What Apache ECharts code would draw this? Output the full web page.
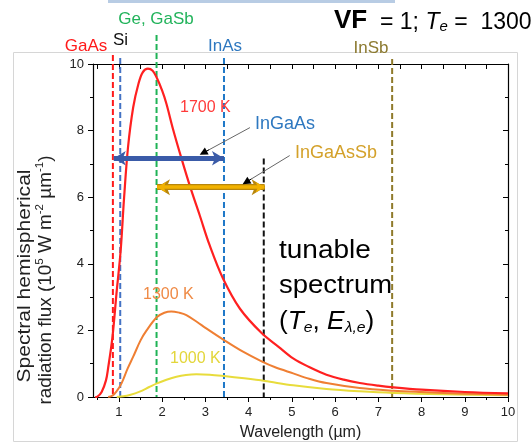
<!DOCTYPE html>
<html><head><meta charset="utf-8">
<script src="https://cdn.jsdelivr.net/npm/echarts@6/dist/echarts.min.js"></script>
<style>html,body{margin:0;padding:0;background:#fff}#c{width:532px;height:446px}</style>
</head><body><div id="c"></div>
<script>
const FONT = '"Liberation Sans", Arial, sans-serif';

// ---- data ----
const wl1700   = [0.45, 0.5, 0.6, 0.7, 0.75, 0.85, 0.95, 1.04, 1.12, 1.21, 1.33, 1.45, 1.55, 1.67, 1.78, 1.87, 2.0, 2.1, 2.25, 2.45, 2.65, 2.87, 3.1, 3.41, 3.8, 4.3, 4.7, 5.03, 5.4, 5.8, 6.2, 6.57, 7.0, 7.35, 8.0, 9.0, 10.0];
const flux1700 = [0.0, 0.01, 0.15, 0.5, 0.87, 1.8, 3.2, 4.4, 6.0, 7.5, 8.7, 9.4, 9.75, 9.86, 9.8, 9.6, 9.2, 8.8, 8.05, 7.15, 6.3, 5.45, 4.55, 3.55, 2.65, 1.92, 1.5, 1.16, 0.9, 0.67, 0.52, 0.42, 0.34, 0.29, 0.22, 0.15, 0.11];
const wl1300   = [0.75, 0.85, 0.94, 1.06, 1.2, 1.33, 1.5, 1.64, 1.88, 2.05, 2.21, 2.4, 2.56, 2.8, 3.02, 3.43, 3.87, 4.3, 4.6, 5.03, 5.4, 5.8, 6.57, 7.35, 8.0, 9.0, 10.0];
const flux1300 = [0.0, 0.04, 0.16, 0.41, 0.85, 1.21, 1.7, 2.0, 2.40, 2.53, 2.57, 2.53, 2.46, 2.26, 2.06, 1.71, 1.36, 1.07, 0.9, 0.71, 0.55, 0.42, 0.27, 0.19, 0.15, 0.10, 0.07];
const wl1000   = [0.95, 1.1, 1.25, 1.48, 1.7, 1.88, 2.1, 2.33, 2.55, 2.79, 3.1, 3.43, 3.9, 4.375, 5.03, 5.8, 6.57, 7.35, 8.5, 10.0];
const flux1000 = [0.0, 0.02, 0.06, 0.16, 0.3, 0.41, 0.52, 0.61, 0.66, 0.68, 0.67, 0.63, 0.56, 0.48, 0.35, 0.24, 0.17, 0.12, 0.08, 0.05];

const gapNames = ['GaAs', 'Si', 'Ge, GaSb', 'InAs', 'InSb'];
const gapWl    = [0.86, 1.03, 1.87, 3.43, 7.32];
const gapTop   = [10.27, 10.18, 10.87, 10.18, 10.15];
const cutoffWl = 4.35;
const cutoffTop = 7.16;

const ingaasRange   = [0.88, 3.43];
const ingaasLevel   = 7.17;
const ingaassbRange = [1.88, 4.37];
const ingaassbLevel = 6.30;
const ingaasPointer   = [[4.03, 8.09], [2.95, 7.33]];
const ingaassbPointer = [[4.95, 7.25], [3.94, 6.45]];

const xMajor = [1, 2, 3, 4, 5, 6, 7, 8, 9, 10];
const xMinor = [0.5, 1.5, 2.5, 3.5, 4.5, 5.5, 6.5, 7.5, 8.5, 9.5];

// ---- chart ----
const zip = (xs, ys) => xs.map((x, i) => [x, ys[i]]);
const chart = echarts.init(document.getElementById('c'), null, {renderer: 'canvas'});

const gapColors = ['#ff1a1a', '#4472c4', '#1fb356', '#1f78c8', '#8f7a2a'];
const gapLabelColors = ['#ff1a1a', '#111111', '#22b35b', '#2e78c0', '#8c7a30'];

const series = [];
gapWl.forEach((w, i) => {
  series.push({
    type: 'line', name: gapNames[i], data: [[w, gapTop[i]], [w, 0]], clip: false,
    symbol: 'none', silent: true, z: 3,
    lineStyle: {color: gapColors[i], width: 2, type: [6, 3]}
  });
});
series.push({
  type: 'line', name: 'cutoff', data: [[cutoffWl, cutoffTop], [cutoffWl, 0]], clip: false,
  symbol: 'none', silent: true, z: 3,
  lineStyle: {color: '#111', width: 2, type: [6, 3]}
});
[[wl1000, flux1000, '#e8dc3c', 2], [wl1300, flux1300, '#ef7f33', 2], [wl1700, flux1700, '#ff2020', 2.2]].forEach(([xs, ys, c, w]) => {
  series.push({
    type: 'line', data: zip(xs, ys), smooth: 0.35, symbol: 'none', silent: true, z: 4,
    lineStyle: {color: c, width: w}
  });
});
const headStart = (p) => [p[1][0] + 0.12 * (p[0][0] - p[1][0]), p[1][1] + 0.12 * (p[0][1] - p[1][1])];
series.push({
  type: 'line', data: [], silent: true, z: 6,
  markLine: {
    silent: true, animation: false, label: {show: false},
    emphasis: {disabled: true},
    data: [
      [{coord: [ingaasRange[0], ingaasLevel], symbol: 'arrow', symbolSize: [11, 12], lineStyle: {color: '#3a5ba8', width: 5, type: 'solid'}},
       {coord: [ingaasRange[1], ingaasLevel], symbol: 'arrow', symbolSize: [11, 12]}],
      [{coord: [ingaassbRange[0], ingaassbLevel], symbol: 'arrow', symbolSize: [12, 13], lineStyle: {color: '#b8860b', width: 6, type: 'solid'}},
       {coord: [ingaassbRange[1], ingaassbLevel], symbol: 'arrow', symbolSize: [12, 13]}],
      [{coord: [ingaassbRange[0], ingaassbLevel], symbol: 'arrow', symbolSize: [8, 9], lineStyle: {color: '#f2b200', width: 3.5, type: 'solid'}},
       {coord: [ingaassbRange[1], ingaassbLevel], symbol: 'arrow', symbolSize: [8, 9]}],
      [{coord: ingaasPointer[0], symbol: 'none', lineStyle: {color: '#666', width: 1, type: 'solid'}},
       {coord: ingaasPointer[1], symbol: 'none'}],
      [{coord: ingaassbPointer[0], symbol: 'none', lineStyle: {color: '#666', width: 1, type: 'solid'}},
       {coord: ingaassbPointer[1], symbol: 'none'}],
      [{coord: headStart(ingaasPointer), symbol: 'none', lineStyle: {color: '#000', width: 1, type: 'solid'}},
       {coord: ingaasPointer[1], symbol: 'triangle', symbolSize: 8}],
      [{coord: headStart(ingaassbPointer), symbol: 'none', lineStyle: {color: '#000', width: 1, type: 'solid'}},
       {coord: ingaassbPointer[1], symbol: 'triangle', symbolSize: 8}]
    ]
  }
});

function T(x, y, text, o) {
  return {
    type: 'text', x: x, y: y, z: 100, silent: true, rotation: o.rot || 0,
    scaleX: o.sx || 1, scaleY: o.sy || 1,
    style: {
      text: text, fontFamily: FONT, fontSize: o.size || 16, fill: o.color || '#000',
      align: o.align || 'left', verticalAlign: 'middle', fontWeight: o.weight || 'normal',
      rich: o.rich
    }
  };
}
const italicRich = (size, subSize) => ({
  i: {fontFamily: FONT, fontSize: size, fontStyle: 'italic', verticalAlign: 'bottom', lineHeight: size * 1.2},
  sub: {fontFamily: FONT, fontSize: subSize, fontStyle: 'italic', verticalAlign: 'bottom', lineHeight: subSize},
  n: {fontFamily: FONT, fontSize: size, verticalAlign: 'bottom', lineHeight: size * 1.2}
});

const graphics = [
  {type: 'rect', shape: {x: 13.5, y: 52.5, width: 504, height: 389}, style: {fill: 'none', stroke: '#d6d6d6', lineWidth: 1}, z: -1, silent: true},
  {type: 'rect', shape: {x: 108, y: 0, width: 287, height: 3}, style: {fill: '#b8cce4'}, z: -1, silent: true},
  T(86, 46, gapNames[0], {color: gapLabelColors[0], size: 17, align: 'center'}),
  T(120.5, 40, gapNames[1], {color: gapLabelColors[1], size: 17, align: 'center'}),
  T(156, 19.5, gapNames[2], {color: gapLabelColors[2], size: 17, align: 'center'}),
  T(225, 46.6, gapNames[3], {color: gapLabelColors[3], size: 17, align: 'center'}),
  T(371, 48.7, gapNames[4], {color: gapLabelColors[4], size: 17, align: 'center'}),
  T(334, 19, '{b|VF}{n|  = 1; }{i|T}{sub|e}{n| =  1300}', {rich: Object.assign(italicRich(23, 15), {b: {fontFamily: FONT, fontSize: 26, fontWeight: 'bold', verticalAlign: 'bottom', lineHeight: 30}})}),
  T(180, 107.3, '1700 K', {color: '#ff3a3a', size: 16}),
  T(143, 295, '1300 K', {color: '#ef8a45', size: 16}),
  T(170, 359, '1000 K', {color: '#e3d63a', size: 16}),
  T(255, 124, 'InGaAs', {color: '#2e78c0', size: 18}),
  T(295, 153, 'InGaAsSb', {color: '#d4a12a', size: 18}),
  T(279, 251, 'tunable', {size: 25, sx: 1.12}),
  T(279, 286, 'spectrum', {size: 25, sx: 1.1}),
  T(279, 320, '{n|(}{i|T}{sub|e}{n|, }{i|E}{sub|λ,e}{n|)}', {rich: italicRich(25, 15), sx: 1.05}),
  T(300.5, 433, 'Wavelength (µm)', {size: 16, align: 'center', color: '#222'}),
  T(25, 276, 'Spectral hemispherical', {size: 18, align: 'center', rot: Math.PI / 2, color: '#222', sx: 1.17}),
  T(45, 280, '{n|radiation flux (10}{s|5}{n| W m}{s|-2}{n| µm}{s|-1}{n|)}', {align: 'center', rot: Math.PI / 2, sx: 1.05,
    rich: {n: {fontFamily: FONT, fontSize: 18, fill: '#222', verticalAlign: 'bottom', lineHeight: 21},
           s: {fontFamily: FONT, fontSize: 11, fill: '#222', verticalAlign: 'top', lineHeight: 21}}})
];

const axisLine = {show: true, onZero: false, lineStyle: {color: '#000', width: 1.2}};
const tickStyle = {color: '#000', width: 1};
const option = {
  animation: false,
  grid: {left: 93, top: 64, width: 415, height: 333, containLabel: false},
  xAxis: [
    {type: 'value', min: 0.4, max: 10, position: 'bottom', axisLine: axisLine,
     axisTick: {show: true, inside: false, length: 5, customValues: xMajor, lineStyle: tickStyle},
     axisLabel: {show: true, customValues: xMajor, fontSize: 13, color: '#222', margin: 9, fontFamily: FONT},
     splitLine: {show: false}},
    {type: 'value', min: 0.4, max: 10, position: 'bottom', axisLine: {show: false},
     axisTick: {show: true, inside: false, length: 3, customValues: xMinor, lineStyle: tickStyle},
     axisLabel: {show: false}, splitLine: {show: false}},
    {type: 'value', min: 0.4, max: 10, position: 'top', axisLine: axisLine,
     axisTick: {show: true, inside: true, length: 5, customValues: xMajor.concat(xMinor), lineStyle: tickStyle},
     axisLabel: {show: false}, splitLine: {show: false}}
  ],
  yAxis: [
    {type: 'value', min: 0, max: 10, interval: 2, position: 'left', axisLine: axisLine,
     axisTick: {show: true, inside: false, length: 5, lineStyle: tickStyle},
     minorTick: {show: true, splitNumber: 2, length: 3, lineStyle: tickStyle},
     axisLabel: {fontSize: 13, color: '#222', margin: 9, fontFamily: FONT},
     splitLine: {show: false}},
    {type: 'value', min: 0, max: 10, interval: 2, position: 'right', axisLine: axisLine,
     axisTick: {show: true, inside: true, length: 5, lineStyle: tickStyle},
     minorTick: {show: true, splitNumber: 2, length: 3, lineStyle: tickStyle},
     axisLabel: {show: false}, splitLine: {show: false}}
  ],
  series: series,
  graphic: graphics
};
chart.setOption(option);
</script></body></html>
